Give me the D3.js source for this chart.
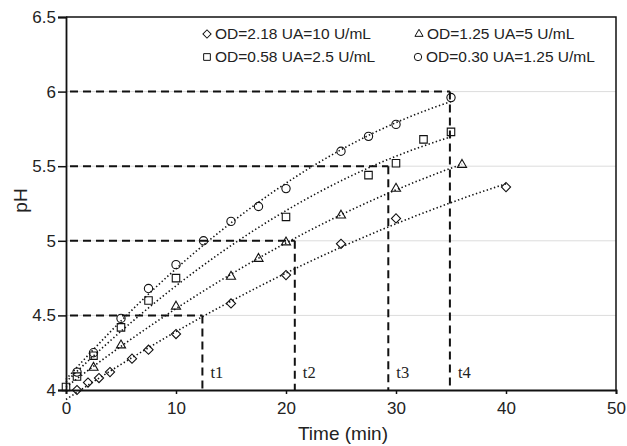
<!DOCTYPE html>
<html>
<head>
<meta charset="utf-8">
<title>pH vs time</title>
<script src="https://cdn.jsdelivr.net/npm/d3@7"></script>
<style>
body { margin: 0; background: #fff; }
text { font-family: "Liberation Sans", Arial, sans-serif; fill: #222; }
</style>
</head>
<body>
<script>
var w = 627,
    h = 446;

// series: time (min) and pH
var diamondT = [1, 2, 3, 4, 6, 7.5, 10, 15, 20, 25, 30, 40];
var diamondPH = [4.00, 4.05, 4.08, 4.12, 4.21, 4.27, 4.375, 4.58, 4.77, 4.98, 5.15, 5.36];
var triangleT = [2.5, 5, 10, 15, 17.5, 20, 25, 30, 36];
var trianglePH = [4.15, 4.30, 4.56, 4.76, 4.88, 4.99, 5.17, 5.35, 5.51];
var squareT = [0, 1, 2.5, 5, 7.5, 10, 20, 27.5, 30, 32.5, 35];
var squarePH = [4.02, 4.09, 4.23, 4.42, 4.60, 4.75, 5.16, 5.44, 5.52, 5.68, 5.73];
var circleT = [1, 2.5, 5, 7.5, 10, 12.5, 15, 17.5, 20, 25, 27.5, 30, 35];
var circlePH = [4.12, 4.25, 4.48, 4.68, 4.84, 5.00, 5.13, 5.23, 5.35, 5.60, 5.70, 5.78, 5.96];

var legendLabels = ["OD=2.18 UA=10 U/mL", "OD=1.25 UA=5 U/mL", "OD=0.58 UA=2.5 U/mL", "OD=0.30 UA=1.25 U/mL"];

// reference levels and read times
var refPH = [4.5, 5, 5.5, 6];
var refT = [12.4, 20.8, 29.3, 34.9];
var refLabels = ["t1", "t2", "t3", "t4"];

var xTicks = [0, 10, 20, 30, 40, 50];
var yTicks = [4, 4.5, 5, 5.5, 6, 6.5];

var x = d3.scaleLinear().domain([0, 50]).range([66, 616]);
var y = d3.scaleLinear().domain([4, 6.5]).range([390, 17]);

var svg = d3.select("body").append("svg")
    .attr("width", w)
    .attr("height", h);

// light grid
svg.selectAll("line.grid")
    .data([4.5, 5, 5.5, 6])
    .enter().append("line")
    .attr("x1", x(0)).attr("x2", x(50))
    .attr("y1", function(d) { return y(d); })
    .attr("y2", function(d) { return y(d); })
    .attr("stroke", "#dcdcdc")
    .attr("stroke-width", 1);

// frame top / right
svg.append("path")
    .attr("d", "M" + x(0) + "," + y(6.5) + "H" + x(50) + "V" + y(4))
    .attr("fill", "none")
    .attr("stroke", "#111")
    .attr("stroke-width", 1.5);

// dashed reference lines
refPH.forEach(function(p, i) {
  svg.append("path")
     .attr("d", "M" + (x(0) + 4) + "," + y(p) + "H" + x(refT[i]) + "M" + x(refT[i]) + "," + y(p) + "V" + y(4))
     .attr("fill", "none")
     .attr("stroke", "#111")
     .attr("stroke-width", 2)
     .attr("stroke-dasharray", "8,5");
  svg.append("text")
     .attr("x", x(refT[i]) + 8)
     .attr("y", 378)
     .style("font-family", "'Liberation Serif', 'Times New Roman', serif")
     .style("font-size", "16.5px")
     .text(refLabels[i]);
});

// quadratic least-squares trend line, like a spreadsheet trendline
function quadFit(ts, ps) {
  var s = [0, 0, 0, 0, 0], r = [0, 0, 0];
  ts.forEach(function(t, i) {
    var p = 1;
    for (var k = 0; k < 5; k++) { s[k] += p; if (k < 3) r[k] += p * ps[i]; p *= t; }
  });
  var A = [[s[0], s[1], s[2], r[0]], [s[1], s[2], s[3], r[1]], [s[2], s[3], s[4], r[2]]];
  for (var c = 0; c < 3; c++) {
    for (var rr = c + 1; rr < 3; rr++) {
      var f = A[rr][c] / A[c][c];
      for (var k = c; k < 4; k++) A[rr][k] -= f * A[c][k];
    }
  }
  var b = [0, 0, 0];
  for (var i = 2; i >= 0; i--) {
    var v = A[i][3];
    for (var j = i + 1; j < 3; j++) v -= A[i][j] * b[j];
    b[i] = v / A[i][i];
  }
  return function(t) { return b[0] + b[1] * t + b[2] * t * t; };
}

var series = [
  { t: diamondT, p: diamondPH, sym: "diamond" },
  { t: triangleT, p: trianglePH, sym: "triangle" },
  { t: squareT, p: squarePH, sym: "square" },
  { t: circleT, p: circlePH, sym: "circle" }
];

var line = d3.line()
    .x(function(d) { return x(d[0]); })
    .y(function(d) { return y(d[1]); });

series.forEach(function(s) {
  var f = quadFit(s.t, s.p);
  var tEnd = d3.max(s.t);
  var pts = d3.range(0, tEnd + 0.001, tEnd / 80).map(function(t) { return [t, f(t)]; });
  svg.append("path")
     .attr("d", line(pts))
     .attr("fill", "none")
     .attr("stroke", "#111")
     .attr("stroke-width", 1.6)
     .attr("stroke-dasharray", "1.4,2.4");
});

function symbolPath(kind, scale) {
  if (kind === "diamond") return d3.symbol().type(d3.symbolSquare).size(42 * scale)();
  if (kind === "triangle") return d3.symbol().type(d3.symbolTriangle).size(36 * scale)();
  if (kind === "square") return d3.symbol().type(d3.symbolSquare).size(56 * scale)();
  return d3.symbol().type(d3.symbolCircle).size(54 * scale)();
}

series.forEach(function(s) {
  svg.selectAll(null)
     .data(s.t.map(function(t, i) { return [t, s.p[i]]; }))
     .enter().append("path")
     .attr("d", symbolPath(s.sym, 1))
     .attr("transform", function(d) {
        return "translate(" + x(d[0]) + "," + y(d[1]) + ")" + (s.sym === "diamond" ? " rotate(45)" : "");
     })
     .attr("fill", "none")
     .attr("stroke", "#111")
     .attr("stroke-width", 1.1);
});

// axes
var xAxis = d3.axisBottom(x).tickValues(xTicks).tickSize(4).tickFormat(d3.format("d"));
var gx = svg.append("g").attr("transform", "translate(0," + y(4) + ")").call(xAxis);
gx.selectAll("text").style("font-size", "17px").attr("dy", "1.0em");

var yAxis = d3.axisLeft(y).tickValues(yTicks).tickSize(8).tickFormat(function(d) { return d3.format("")(d); });
var gy = svg.append("g").attr("transform", "translate(" + x(0) + ",0)").call(yAxis);
gy.selectAll("text").style("font-size", "17px").attr("x", -10);

[gx, gy].forEach(function(g) {
  g.select(".domain").attr("stroke", "#111").attr("stroke-width", 1.8);
  g.selectAll(".tick line").attr("stroke", "#111").attr("stroke-width", 1.5);
  g.selectAll("text").style("font-family", "'Liberation Sans', Arial, sans-serif").attr("fill", "#222");
});

svg.append("text")
   .attr("x", x(25) + 2)
   .attr("y", 440)
   .attr("text-anchor", "middle")
   .style("font-size", "19px")
   .text("Time (min)");

svg.append("text")
   .attr("transform", "translate(27," + y(5.27) + ") rotate(-90)")
   .attr("text-anchor", "middle")
   .style("font-size", "19px")
   .text("pH");

// legend
var legendPos = [[207, 34], [419, 34], [207, 57], [418, 57]];
series.forEach(function(s, i) {
  svg.append("path")
     .attr("d", symbolPath(s.sym, 0.8))
     .attr("transform", "translate(" + legendPos[i][0] + "," + legendPos[i][1] + ")" + (s.sym === "diamond" ? " rotate(45)" : ""))
     .attr("fill", "none")
     .attr("stroke", "#111")
     .attr("stroke-width", 1);
  svg.append("text")
     .attr("x", legendPos[i][0] + 8)
     .attr("y", legendPos[i][1] + 5)
     .style("font-size", "15.5px")
     .text(legendLabels[i]);
});
</script>
</body>
</html>
